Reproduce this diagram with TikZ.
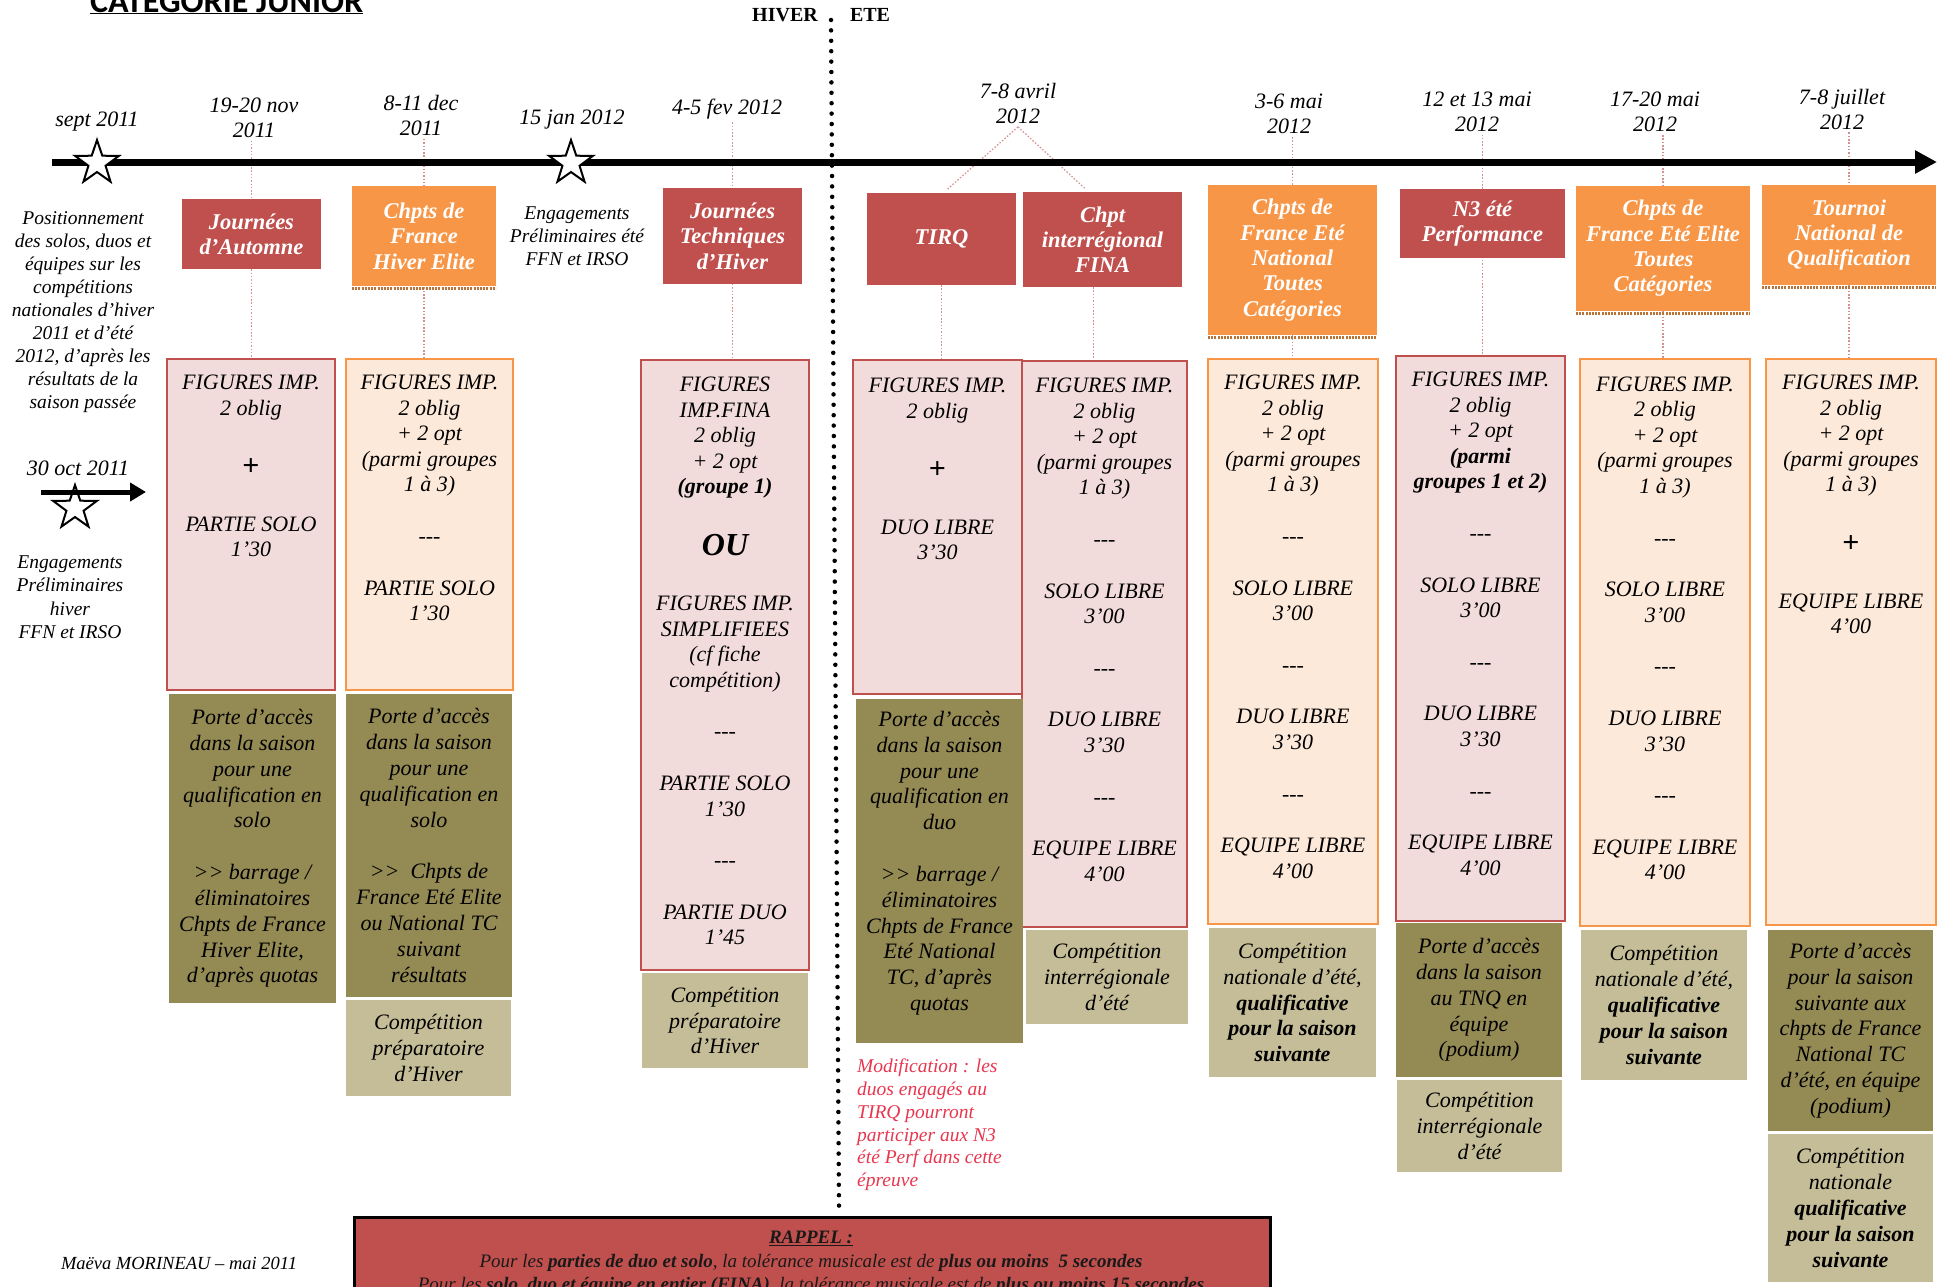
\documentclass[tikz,border=0pt]{standalone}
\usepackage{fontspec}
\setmainfont{Liberation Serif}[BoldFont={Liberation Serif Bold}, ItalicFont={Liberation Serif Italic}, BoldItalicFont={Liberation Serif Bold Italic}]
\newfontfamily\titlefont{Carlito}[BoldFont={Carlito Bold}]
\usetikzlibrary{arrows.meta,shapes.geometric,calc}
\pgfdeclarelayer{bg}
\pgfsetlayers{bg,main}
\definecolor{cRed}{HTML}{C0504D}
\definecolor{cOrange}{HTML}{F79646}
\definecolor{cPink}{HTML}{F2DCDB}
\definecolor{cPeach}{HTML}{FDE9D9}
\definecolor{cDark}{HTML}{948A54}
\definecolor{cLight}{HTML}{C4BD97}
\definecolor{cMark}{HTML}{D48F8F}
\definecolor{cNote}{HTML}{E8364F}
\definecolor{cShadow}{HTML}{B8733A}
\newcommand\fs[2]{\fontsize{#1}{#2}\selectfont}
\newcommand\tst{\rule{0pt}{0.72em}}
\newcommand\dsh{-{}-{}-}
\newcommand\plusbig{{\fs{30}{25.6}\bfseries\upshape +}}
\begin{document}
\begin{tikzpicture}[x=1pt,y=-1pt,
  hdr/.style={inner sep=0, outer sep=0, text=white, font=\fs{22.5}{25.3}\bfseries\itshape, align=center},
  hdrR/.style={hdr, fill=cRed},
  hdrO/.style={hdr, fill=cOrange},
  cbox/.style={inner sep=0, outer sep=0, line width=2.5},
  cboxR/.style={cbox, draw=cRed, fill=cPink},
  cboxO/.style={cbox, draw=cOrange, fill=cPeach},
  ctxt/.style={inner sep=0, anchor=north, align=center, font=\fs{22}{25.6}\itshape},
  btm/.style={inner sep=0, outer sep=0, align=center, font=\fs{22}{25.8}\itshape},
  bDark/.style={btm, fill=cDark},
  bLight/.style={btm, fill=cLight},
  datelbl/.style={inner sep=0, align=center, font=\fs{22}{25}\itshape},
  sidetxt/.style={inner sep=0, anchor=north, align=center, font=\fs{19.5}{23}\itshape},
  mkline/.style={draw=cMark, line width=1.2, dash pattern=on 1.5pt off 1.8pt},
  starnode/.style={star, star points=5, star point ratio=2.55, draw=black, fill=white, line width=2, minimum size=46, inner sep=0},
  oshadow/.style={draw=cShadow, line width=3, dash pattern=on 2pt off 1.2pt}
]
\useasboundingbox (0,0) rectangle (1943,1286);

% title and seasons
\node[anchor=base west, inner sep=0, font=\titlefont\fs{34}{40}\bfseries] (title) at (90,12) {\underline{CATÉGORIE JUNIOR}};
\node[inner sep=0, font=\fs{20}{24}\bfseries] (hiver) at (785,15) {HIVER};
\node[inner sep=0, font=\fs{20}{24}\bfseries] (ete) at (870,15) {ETE};

% dates
\node[datelbl] (d0) at (97,122) {sept 2011};
\node[datelbl] (d1) at (254,117.5) {19-20 nov\\2011};
\node[datelbl] (d2) at (421,115.5) {8-11 dec\\2011};
\node[datelbl] (d3) at (572,120) {15 jan 2012};
\node[datelbl] (d4) at (727,109) {4-5 fev 2012};
\node[datelbl] (d5) at (1018,103.5) {7-8 avril\\2012};
\node[datelbl] (d6) at (1289,114) {3-6 mai\\2012};
\node[datelbl] (d7) at (1477,111.5) {12 et 13 mai\\2012};
\node[datelbl] (d8) at (1655,112) {17-20 mai\\2012};
\node[datelbl] (d9) at (1842,109) {7-8 juillet\\2012};

% season divider
\coordinate (dvA) at (831,20);
\coordinate (dvB) at (839,1206);
\draw[line width=4.5, line cap=round, dash pattern=on 0pt off 10.4pt] (dvA) -- (dvB);

% timeline
\coordinate (tlA) at (52,162);
\coordinate (tlB) at (1937,162);
\draw[line width=7, -{Triangle[length=22pt,width=22pt]}] (tlA) -- (tlB);
\node[starnode] (s0) at (97,163) {};
\node[starnode] (s1) at (571,163) {};

% left texts
\node[sidetxt] (pos) at (83,210.4) {\tst Positionnement\\des solos, duos et\\équipes sur les\\compétitions\\nationales d'hiver\\2011 et d'été\\2012, d'après les\\résultats de la\\saison passée};
\node[datelbl] (oct) at (78,468) {30 oct 2011};
\node[starnode] (s2) at (75,508) {};
\coordinate (saA) at (41,492);
\coordinate (saB) at (146,492);
\draw[line width=5, -{Triangle[length=16pt,width=18pt]}] (saA) -- (saB);
\node[sidetxt, font=\fs{19.5}{23.3}\itshape] (engH) at (70,554.4) {\tst Engagements\\Préliminaires\\hiver\\FFN et IRSO};
\node[sidetxt] (engE) at (577,205.4) {\tst Engagements\\Préliminaires été\\FFN et IRSO};

% header boxes
\node[hdrR, minimum width=139, minimum height=70] (h1) at (251.5,234) {Journées\\d'Automne};
\node[hdrO, minimum width=144, minimum height=100] (h2) at (424,236) {Chpts de\\France\\Hiver Elite};
\node[hdrR, minimum width=139, minimum height=96] (h3) at (732.5,236) {Journées\\Techniques\\d'Hiver};
\node[hdrR, minimum width=149, minimum height=92] (h4) at (941.5,239) {TIRQ};
\node[hdrR, minimum width=159, minimum height=95] (h5) at (1102.5,239.5) {Chpt\\interrégional\\FINA};
\node[hdrO, minimum width=169, minimum height=150] (h6) at (1292.5,260) {Chpts de\\France Eté\\National\\Toutes\\Catégories};
\node[hdrR, minimum width=165, minimum height=69] (h7) at (1482.5,223.5) {N3 été\\Performance};
\node[hdrO, minimum width=174, minimum height=125] (h8) at (1663,248.5) {Chpts de\\France Eté Elite\\Toutes\\Catégories};
\node[hdrO, minimum width=174, minimum height=100] (h9) at (1849,235) {Tournoi\\National de\\Qualification};
\draw[oshadow] ([yshift=-2]h2.south west) -- ([yshift=-2]h2.south east);
\draw[oshadow] ([yshift=-2]h6.south west) -- ([yshift=-2]h6.south east);
\draw[oshadow] ([yshift=-2]h8.south west) -- ([yshift=-2]h8.south east);
\draw[oshadow] ([yshift=-2]h9.south west) -- ([yshift=-2]h9.south east);

% content boxes
\node[cboxR, minimum width=168, minimum height=331] (c1) at (251,524.5) {};
\node[cboxO, minimum width=167, minimum height=331] (c2) at (429.5,524.5) {};
\node[cboxR, minimum width=168, minimum height=610] (c3) at (725,665) {};
\node[cboxR, minimum width=169, minimum height=334] (c4) at (937.5,527) {};
\node[cboxR, minimum width=165, minimum height=566] (c5) at (1104.5,644) {};
\node[cboxO, minimum width=170, minimum height=565] (c6) at (1293,641.5) {};
\node[cboxR, minimum width=169, minimum height=565] (c7) at (1480.5,638.5) {};
\node[cboxO, minimum width=170, minimum height=567] (c8) at (1665,642.5) {};
\node[cboxO, minimum width=170, minimum height=566] (c9) at (1851,642) {};

\node[ctxt] (t1) at (251,373.4) {\tst FIGURES IMP.\\2 oblig\\[35pt]\plusbig\\[30pt]PARTIE SOLO\\1'30};
\node[ctxt] (t2) at (429.5,373.4) {\tst FIGURES IMP.\\2 oblig\\+ 2 opt\\(parmi groupes\\1 à 3)\\[26pt]\dsh\\[26pt]PARTIE SOLO\\1'30};
\node[ctxt] (t3a) at (725,375.4) {\tst FIGURES\\IMP.FINA\\2 oblig\\+ 2 opt\\{\bfseries (groupe 1)}};
\node[inner sep=0, font=\fs{32}{36}\bfseries\itshape] (ou) at (725,545) {OU};
\node[ctxt] (t3b) at (725,594.4) {\tst FIGURES IMP.\\SIMPLIFIEES\\(cf fiche\\compétition)\\[26pt]\dsh\\[26pt]PARTIE SOLO\\1'30\\[26pt]\dsh\\[26pt]PARTIE DUO\\1'45};
\node[ctxt] (t4) at (937.5,376.4) {\tst FIGURES IMP.\\2 oblig\\[35pt]\plusbig\\[30pt]DUO LIBRE\\3'30};
\node[ctxt] (t5) at (1104.5,376.4) {\tst FIGURES IMP.\\2 oblig\\+ 2 opt\\(parmi groupes\\1 à 3)\\[26pt]\dsh\\[26pt]SOLO LIBRE\\3'00\\[26pt]\dsh\\[26pt]DUO LIBRE\\3'30\\[26pt]\dsh\\[26pt]EQUIPE LIBRE\\4'00};
\node[ctxt] (t6) at (1293,373.4) {\tst FIGURES IMP.\\2 oblig\\+ 2 opt\\(parmi groupes\\1 à 3)\\[26pt]\dsh\\[26pt]SOLO LIBRE\\3'00\\[26pt]\dsh\\[26pt]DUO LIBRE\\3'30\\[26pt]\dsh\\[26pt]EQUIPE LIBRE\\4'00};
\node[ctxt] (t7) at (1480.5,370.4) {\tst FIGURES IMP.\\2 oblig\\+ 2 opt\\{\bfseries (parmi}\\{\bfseries groupes 1 et 2)}\\[26pt]\dsh\\[26pt]SOLO LIBRE\\3'00\\[26pt]\dsh\\[26pt]DUO LIBRE\\3'30\\[26pt]\dsh\\[26pt]EQUIPE LIBRE\\4'00};
\node[ctxt] (t8) at (1665,375) {\tst FIGURES IMP.\\2 oblig\\+ 2 opt\\(parmi groupes\\1 à 3)\\[26pt]\dsh\\[26pt]SOLO LIBRE\\3'00\\[26pt]\dsh\\[26pt]DUO LIBRE\\3'30\\[26pt]\dsh\\[26pt]EQUIPE LIBRE\\4'00};
\node[ctxt] (t9) at (1851,373.4) {\tst FIGURES IMP.\\2 oblig\\+ 2 opt\\(parmi groupes\\1 à 3)\\[35pt]\plusbig\\[30pt]EQUIPE LIBRE\\4'00};

% bottom boxes
\node[bDark, minimum width=167, minimum height=309] (b1) at (252.5,848.5) {Porte d'accès\\dans la saison\\pour une\\qualification en\\solo\\[26pt]>{}> barrage /\\éliminatoires\\Chpts de France\\Hiver Elite,\\d'après quotas};
\node[bDark, minimum width=166, minimum height=303] (b2) at (429,845.5) {Porte d'accès\\dans la saison\\pour une\\qualification en\\solo\\[26pt]>{}>\ \ Chpts de\\France Eté Elite\\ou National TC\\suivant\\résultats};
\node[bLight, minimum width=165, minimum height=96] (b2l) at (428.5,1048) {Compétition\\préparatoire\\d'Hiver};
\node[bLight, minimum width=166, minimum height=95] (b3l) at (725,1020.5) {Compétition\\préparatoire\\d'Hiver};
\node[bDark, minimum width=167, minimum height=344] (b4) at (939.5,871) {};
\node[ctxt, font=\fs{22}{25.8}\itshape] (b4t) at (939.5,710.4) {\tst Porte d'accès\\dans la saison\\pour une\\qualification en\\duo\\[26pt]>{}> barrage /\\éliminatoires\\Chpts de France\\Eté National\\TC, d'après\\quotas};
\node[bLight, minimum width=162, minimum height=94] (b5l) at (1107,977) {Compétition\\interrégionale\\d'été};
\node[bLight, minimum width=167, minimum height=149] (b6l) at (1292.5,1002.5) {Compétition\\nationale d'été,\\\textbf{qualificative}\\\textbf{pour la saison}\\\textbf{suivante}};
\node[bDark, minimum width=166, minimum height=154] (b7) at (1479,1000) {Porte d'accès\\dans la saison\\au TNQ en\\équipe\\(podium)};
\node[bLight, minimum width=165, minimum height=92] (b7l) at (1479.5,1126) {Compétition\\interrégionale\\d'été};
\node[bLight, minimum width=166, minimum height=150] (b8l) at (1664,1005) {Compétition\\nationale d'été,\\\textbf{qualificative}\\\textbf{pour la saison}\\\textbf{suivante}};
\node[bDark, minimum width=165, minimum height=201] (b9) at (1850.5,1030.5) {Porte d'accès\\pour la saison\\suivante aux\\chpts de France\\National TC\\d'été, en équipe\\(podium)};
\node[bLight, minimum width=165, minimum height=148] (b9l) at (1850.5,1208) {Compétition\\nationale\\\textbf{qualificative}\\\textbf{pour la saison}\\\textbf{suivante}};

% note
\node[inner sep=0, anchor=north west, align=left, font=\fs{19.5}{22.8}\itshape, text=cNote] (note) at (857,1058.4) {\tst Modification : les\\duos engagés au\\TIRQ pourront\\participer aux N3\\été Perf dans cette\\épreuve};

% signature
\node[inner sep=0, font=\fs{18.5}{22}\itshape] (sig) at (179,1263) {Maëva MORINEAU – mai 2011};

% rappel
\node[draw=black, line width=3, fill=cRed, minimum width=916, minimum height=130, anchor=north west, inner sep=0] (rap) at (353,1216) {};
\node[inner sep=0, anchor=north, align=center, font=\fs{19}{23.5}\itshape, text=black!90] (raptxt) at (811,1229.6) {\tst\underline{\textbf{RAPPEL :}}\\Pour les \textbf{parties de duo et solo}, la tolérance musicale est de \textbf{plus ou moins\ \ 5 secondes}\\Pour les \textbf{solo, duo et équipe en entier (FINA)}, la tolérance musicale est de \textbf{plus ou moins 15 secondes}};

% marker lines behind
\begin{pgfonlayer}{bg}
\fill[white] (0,0) rectangle (1943,1286);
\draw[mkline] ([yshift=-3]h1.center |- d1.south) -- (h1.center |- c1.north);
\draw[mkline] ([yshift=-3]h2.center |- d2.south) -- (h2.center |- c2.north);
\draw[mkline] ([yshift=-3]h3.center |- d4.south) -- (h3.center |- c3.north);
\draw[mkline] ([yshift=-3]d5.south) -- ($(h4.north)+(5,-3)$);
\draw[mkline] ([yshift=-3]d5.south) -- ($(h5.north)+(-17,-3)$);
\draw[mkline] (h4.south) -- (h4.south |- c4.north);
\draw[mkline] ($(h5.south)+(-9,0)$) -- ($(h5.south |- c5.north)+(-9,0)$);
\draw[mkline] ([yshift=-3]h6.center |- d6.south) -- (h6.center |- c6.north);
\draw[mkline] ([yshift=-3]h7.center |- d7.south) -- (h7.center |- c7.north);
\draw[mkline] ([yshift=-3]h8.center |- d8.south) -- (h8.center |- c8.north);
\draw[mkline] ([yshift=-3]h9.center |- d9.south) -- (h9.center |- c9.north);
\end{pgfonlayer}
\end{tikzpicture}
\end{document}
